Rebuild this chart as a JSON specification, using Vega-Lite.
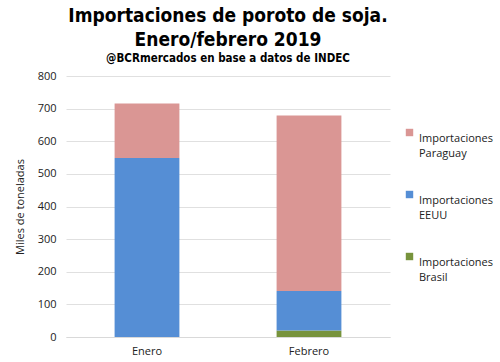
{
  "$schema": "https://vega.github.io/schema/vega-lite/v6.json",
  "width": 500,
  "height": 362,
  "autosize": {"type": "fit", "contains": "padding"},
  "padding": {"left": 14, "right": 110, "top": 6, "bottom": 6},
  "background": "white",
  "title": {
    "text": ["Importaciones de poroto de soja.", "Enero/febrero 2019"],
    "subtitle": "@BCRmercados en base a datos de INDEC",
    "font": "DejaVu Sans Condensed",
    "fontSize": 19,
    "fontWeight": "bold",
    "lineHeight": 24,
    "color": "#000000",
    "subtitleFont": "DejaVu Sans Condensed",
    "subtitleFontSize": 11.5,
    "subtitleFontWeight": "bold",
    "subtitleColor": "#000000",
    "subtitlePadding": 3,
    "anchor": "middle",
    "frame": "group",
    "offset": 6
  },
  "data": {
    "values": [
      {"mes": "Enero", "origen": "Importaciones\nBrasil", "valor": 0, "orden": 1},
      {"mes": "Enero", "origen": "Importaciones\nEEUU", "valor": 549, "orden": 2},
      {"mes": "Enero", "origen": "Importaciones\nParaguay", "valor": 167, "orden": 3},
      {"mes": "Febrero", "origen": "Importaciones\nBrasil", "valor": 20, "orden": 1},
      {"mes": "Febrero", "origen": "Importaciones\nEEUU", "valor": 121, "orden": 2},
      {"mes": "Febrero", "origen": "Importaciones\nParaguay", "valor": 538, "orden": 3}
    ]
  },
  "mark": {"type": "bar"},
  "encoding": {
    "x": {
      "field": "mes",
      "type": "nominal",
      "sort": ["Enero", "Febrero"],
      "scale": {"paddingInner": 0.6, "paddingOuter": 0.3},
      "axis": {
        "title": null,
        "labelAngle": 0,
        "labelFont": "Open Sans",
        "labelFontSize": 11,
        "labelColor": "#222222",
        "ticks": false,
        "domainColor": "#d9d9d9",
        "labelPadding": 8
      }
    },
    "y": {
      "field": "valor",
      "type": "quantitative",
      "stack": "zero",
      "scale": {"domain": [0, 800]},
      "axis": {
        "title": "Miles de toneladas",
        "titleFont": "Open Sans",
        "titleFontSize": 11,
        "titleFontWeight": "normal",
        "titleColor": "#222222",
        "titlePadding": 12,
        "values": [0, 100, 200, 300, 400, 500, 600, 700, 800],
        "labelFont": "Open Sans",
        "labelFontSize": 11,
        "labelColor": "#222222",
        "labelPadding": 10,
        "ticks": false,
        "domain": false,
        "gridColor": "#e0e0e0"
      }
    },
    "color": {
      "field": "origen",
      "type": "nominal",
      "scale": {
        "domain": ["Importaciones\nParaguay", "Importaciones\nEEUU", "Importaciones\nBrasil"],
        "range": ["#DA9694", "#558ED5", "#77933C"]
      },
      "legend": {
        "title": null,
        "orient": "none",
        "legendX": 338,
        "legendY": 51,
        "symbolType": "square",
        "symbolSize": 55,
        "symbolStrokeWidth": 0,
        "symbolOffset": 0,
        "labelFont": "Open Sans",
        "labelFontSize": 11,
        "labelColor": "#222222",
        "labelExpr": "split(datum.label, '\\n')",
        "labelLimit": 200,
        "labelOffset": 4,
        "rowPadding": 30,
        "padding": 0,
        "labelBaseline": "top",
        "symbolBaseline": "top",
        "encode": {"labels": {"update": {"lineHeight": {"value": 15}}}}
      }
    },
    "order": {"field": "orden", "type": "quantitative"}
  },
  "config": {"view": {"stroke": null}}
}
